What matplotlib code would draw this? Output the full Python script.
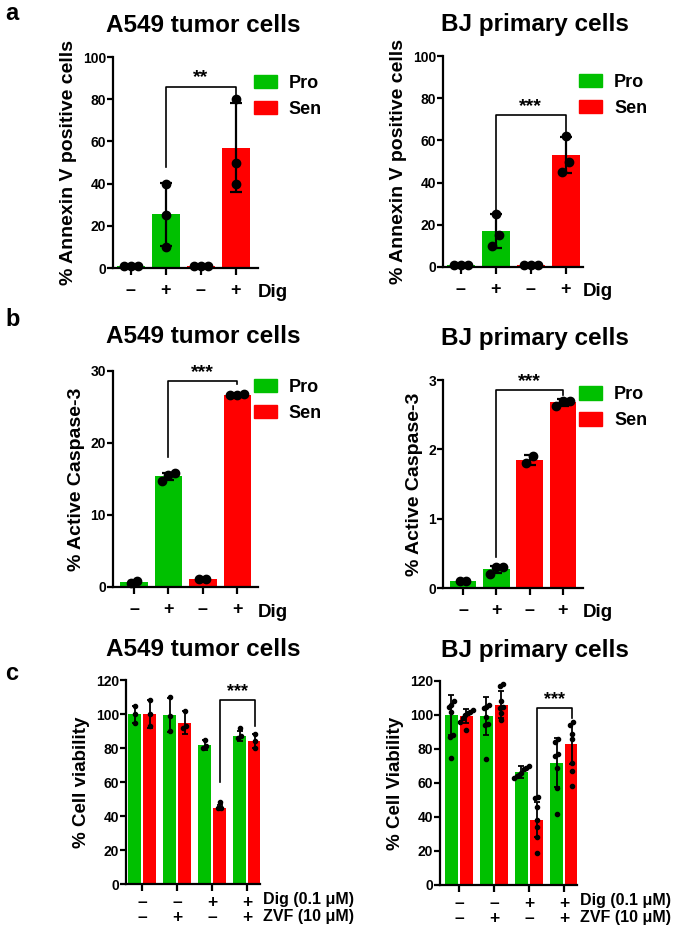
import numpy as np
import matplotlib
matplotlib.use('Agg')
import matplotlib.pyplot as plt
from matplotlib.patches import Patch

plt.rcParams['font.family'] = ['Liberation Sans', 'DejaVu Sans']
plt.rcParams['font.weight'] = 'bold'
plt.rcParams['axes.labelweight'] = 'bold'
plt.rcParams['axes.titleweight'] = 'bold'

GREEN = '#00c000'
RED = '#ff0000'

# ---- data ----
dig_signs = ['–', '+', '–', '+']
bar_colors = [GREEN, GREEN, RED, RED]

# a: Annexin V
annexin_a549_mean = [1, 25.5, 1, 57]
annexin_a549_err = [0.3, 15, 0.3, 21]
annexin_a549_pts = [[1, 1, 1], [40, 25, 10], [1, 1, 1], [80, 50, 40]]
annexin_bj_mean = [1, 17, 1, 53]
annexin_bj_err = [0.3, 8, 0.3, 8.5]
annexin_bj_pts = [[1, 1, 1], [25, 15, 10], [1, 1, 1], [62, 50, 45]]

# b: active caspase-3
casp_a549_mean = [0.7, 15.4, 1.1, 26.7]
casp_a549_err = [0.1, 0.5, 0.05, 0.1]
casp_a549_pts = [[0.6, 0.8], [15.8, 14.7, 15.5], [1.1, 1.1], [26.8, 26.6, 26.6]]
casp_bj_mean = [0.1, 0.27, 1.85, 2.68]
casp_bj_err = [0.01, 0.05, 0.07, 0.05]
casp_bj_pts = [[0.1, 0.1], [0.3, 0.3, 0.2], [1.8, 1.9], [2.7, 2.7, 2.62]]

# c: viability
via_dig = ['–', '–', '+', '+']
via_zvf = ['–', '+', '–', '+']
via_a549_pro = [100, 99.5, 82, 87]
via_a549_pro_err = [5, 10, 3, 3]
via_a549_pro_pts = [[105, 100, 95], [110, 99, 90], [85, 80, 81], [92, 87, 86]]
via_a549_sen = [100, 95, 45, 84]
via_a549_sen_err = [8, 6.5, 1.5, 4]
via_a549_sen_pts = [[108, 100, 93], [102, 93, 92], [48, 45, 45], [88, 84, 80]]
via_bj_pro = [100, 99.5, 66.5, 72]
via_bj_pro_err = [12, 11, 3.5, 14.5]
via_bj_pro_pts = [[108, 106, 105, 102, 88, 87, 75], [106, 105, 104, 99, 95, 94, 74],
                  [70, 69, 68, 66, 65, 64, 63], [86, 84, 77, 76, 69, 57, 42]]
via_bj_sen = [99.5, 106, 38.5, 83]
via_bj_sen_err = [4, 8, 10.5, 12]
via_bj_sen_pts = [[103, 102, 101, 100, 98, 96, 91], [118, 117, 108, 105, 104, 101, 97],
                  [52, 51, 46, 38, 34, 28, 19], [96, 94, 89, 86, 72, 67, 58]]

W, H = 675, 932
fig = plt.figure(figsize=(W / 100, H / 100), dpi=100)


def add_ax(x0, x1, ytop, ybot):
    return fig.add_axes([x0 / W, 1 - ybot / H, (x1 - x0) / W, (ybot - ytop) / H])


def swarm(vals, tol, dx):
    vals = np.asarray(vals, float)
    order = np.argsort(vals)
    offs = np.zeros(len(vals))
    clusters, cur = [], [order[0]]
    for i in order[1:]:
        if abs(vals[i] - vals[cur[-1]]) < tol:
            cur.append(i)
        else:
            clusters.append(cur)
            cur = [i]
    clusters.append(cur)
    for c in clusters:
        n = len(c)
        for k, i in enumerate(c):
            offs[i] = (k - (n - 1) / 2) * dx
    return offs


def style(ax, ymax, step, tick_fs=10):
    for s in ['top', 'right']:
        ax.spines[s].set_visible(False)
    for s in ['left', 'bottom']:
        ax.spines[s].set_linewidth(1.6)
    ax.set_ylim(0, ymax)
    ax.set_yticks(np.arange(0, ymax + step / 2, step))
    ax.tick_params(axis='y', width=1.6, length=4, labelsize=tick_fs, pad=1)
    ax.tick_params(axis='x', width=1.6, length=5, pad=5)
    for lab in ax.get_yticklabels():
        lab.set_fontweight('bold')


def bar_panel(ax, means, errs, pts, ymax, step, xlim, ylabel, tol, leg_y, msize=6):
    x = np.arange(4)
    ax.bar(x, means, width=0.8, color=bar_colors, zorder=1)
    for i in range(4):
        ax.errorbar(x[i], means[i], yerr=errs[i], fmt='none', ecolor='black',
                    elinewidth=1.6, capsize=4, capthick=1.6, zorder=2, clip_on=False)
        offs = swarm(pts[i], tol * ymax, 0.2)
        ax.plot(x[i] + offs, pts[i], 'o', color='black', ms=msize, zorder=3, clip_on=False)
    style(ax, ymax, step)
    ax.set_xlim(*xlim)
    ax.set_xticks(x)
    ax.set_xticklabels(dig_signs, fontsize=13, fontweight='bold')
    ax.set_ylabel(ylabel, fontsize=14)
    ax.text(1.0, -0.118, 'Dig', transform=ax.transAxes, fontsize=13.5,
            ha='left', va='center')
    ax.legend(handles=[Patch(color=GREEN, label='Pro'), Patch(color=RED, label='Sen')],
              loc='upper left', bbox_to_anchor=(0.97, leg_y), frameon=False,
              fontsize=13, handlelength=1.3, handleheight=0.75, handletextpad=0.65,
              labelspacing=0.5, borderaxespad=0, borderpad=0)


def bracket(ax, x0, x1, y0, ytop, y1, stars, star_fs=14):
    ax.plot([x0, x0, x1, x1], [y0, ytop, ytop, y1], color='black', lw=1.2, clip_on=False)
    ax.text((x0 + x1) / 2, ytop, stars, ha='center', va='bottom', fontsize=star_fs,
            clip_on=False)


TITLE_FS = 17.5

# ---- a ----
ax = add_ax(113, 258, 57, 268)
bar_panel(ax, annexin_a549_mean, annexin_a549_err, annexin_a549_pts, 100, 20,
          (-0.51, 3.63), '% Annexin V positive cells', 0.06, 0.915)
bracket(ax, 1, 3, 48, 86, 82, '**')
ax.set_title('A549 tumor cells', fontsize=TITLE_FS, pad=18, x=0.62)

ax = add_ax(443, 583, 56, 267)
bar_panel(ax, annexin_bj_mean, annexin_bj_err, annexin_bj_pts, 100, 20,
          (-0.51, 3.49), '% Annexin V positive cells', 0.06, 0.915)
bracket(ax, 1, 3, 27, 72, 63, '***')
ax.set_title('BJ primary cells', fontsize=TITLE_FS, pad=18, x=0.657)

# ---- b ----
ax = add_ax(113, 258, 371, 587)
bar_panel(ax, casp_a549_mean, casp_a549_err, casp_a549_pts, 30, 10,
          (-0.61, 3.6), '% Active Caspase-3', 0.06, 0.965)
bracket(ax, 1, 3, 18, 28.6, 28.2, '***')
ax.set_title('A549 tumor cells', fontsize=TITLE_FS, pad=20, x=0.62)

ax = add_ax(443, 583, 380, 588)
bar_panel(ax, casp_bj_mean, casp_bj_err, casp_bj_pts, 3, 1,
          (-0.6, 3.6), '% Active Caspase-3', 0.06, 0.97)
bracket(ax, 1, 3, 0.45, 2.85, 2.78, '***')
ax.set_title('BJ primary cells', fontsize=TITLE_FS, pad=25, x=0.657)


# ---- c ----
def via_panel(ax, pro, pro_err, pro_pts, sen, sen_err, sen_pts, xlim, ylabel):
    x = np.arange(4)
    off = 0.215
    w = 0.37
    ax.bar(x - off, pro, width=w, color=GREEN, zorder=1)
    ax.bar(x + off, sen, width=w, color=RED, zorder=1)
    for xs, m, e, p in [(x - off, pro, pro_err, pro_pts), (x + off, sen, sen_err, sen_pts)]:
        for i in range(4):
            ax.errorbar(xs[i], m[i], yerr=e[i], fmt='none', ecolor='black',
                        elinewidth=1.3, capsize=2.5, capthick=1.3, zorder=2)
            offs = swarm(p[i], 0.025 * 120, 0.07)
            ax.plot(xs[i] + offs, p[i], 'o', color='black', ms=3, zorder=3, clip_on=False)
    style(ax, 120, 20, tick_fs=10)
    ax.tick_params(axis='x', pad=3)
    ax.set_xlim(*xlim)
    ax.set_xticks(x)
    ax.set_xticklabels([a + '\n' + b for a, b in zip(via_dig, via_zvf)], fontsize=12.5,
                       fontweight='bold')
    for lab in ax.get_xticklabels():
        lab.set_linespacing(1.0)
    ax.set_ylabel(ylabel, fontsize=13.5)
    ax.text(1.02, -0.075, 'Dig (0.1 μM)', transform=ax.transAxes, fontsize=11.5,
            ha='left', va='center')
    ax.text(1.02, -0.16, 'ZVF (10 μM)', transform=ax.transAxes, fontsize=11.5,
            ha='left', va='center')


ax = add_ax(126, 260, 680, 884)
via_panel(ax, via_a549_pro, via_a549_pro_err, via_a549_pro_pts,
          via_a549_sen, via_a549_sen_err, via_a549_sen_pts, (-0.46, 3.37), '% Cell viability')
bracket(ax, 2.215, 3.215, 60, 108, 93, '***', star_fs=13)
ax.set_title('A549 tumor cells', fontsize=TITLE_FS, pad=17, x=0.575)

ax = add_ax(440, 577, 681, 885)
via_panel(ax, via_bj_pro, via_bj_pro_err, via_bj_pro_pts,
          via_bj_sen, via_bj_sen_err, via_bj_sen_pts, (-0.54, 3.37), '% Cell Viability')
bracket(ax, 2.215, 3.215, 52, 104, 98, '***', star_fs=13)
ax.set_title('BJ primary cells', fontsize=TITLE_FS, pad=17, x=0.693)

# panel letters
fig.text(5 / W, 1 - 14 / H, 'a', fontsize=17, va='center', ha='left')
fig.text(5 / W, 1 - 320 / H, 'b', fontsize=17, va='center', ha='left')
fig.text(5 / W, 1 - 673 / H, 'c', fontsize=17, va='center', ha='left')

fig.savefig('out.png', dpi=100)
